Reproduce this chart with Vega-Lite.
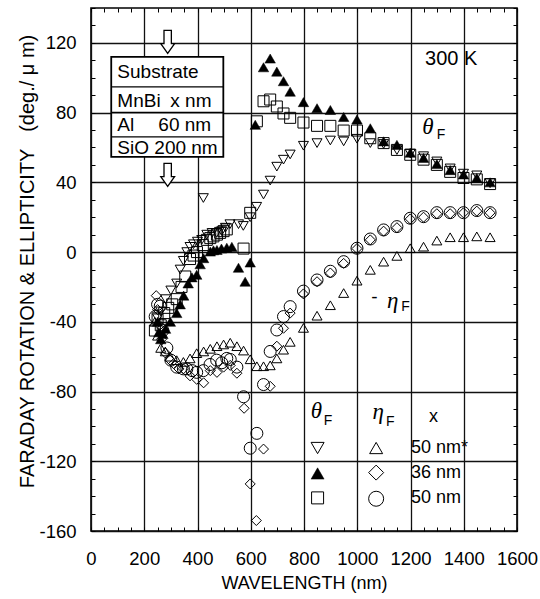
{
  "$schema": "https://vega.github.io/schema/vega-lite/v6.json",
  "width": 426,
  "height": 523,
  "autosize": "none",
  "padding": {"left": 91, "top": 8, "right": 23, "bottom": 68},
  "background": "white",
  "config": {
    "view": {"stroke": "#000", "strokeWidth": 1.6},
    "font": "Liberation Sans",
    "text": {"font": "Liberation Sans", "color": "#000"},
    "axis": {"domain": false, "labelColor": "#000", "titleColor": "#000", "tickColor": "#000", "labelFont": "Liberation Sans", "titleFont": "Liberation Sans", "titleFontWeight": "normal"}
  },
  "datasets": {
    "one": [{}],
    "pts": [
      {"s":"A","nm":250,"v":-38},{"s":"A","nm":262,"v":-34},{"s":"A","nm":280,"v":-27},{"s":"A","nm":300,"v":-22},{"s":"A","nm":322,"v":-18},{"s":"A","nm":335,"v":-10},{"s":"A","nm":347,"v":-5},{"s":"A","nm":360,"v":0},{"s":"A","nm":372,"v":3},{"s":"A","nm":385,"v":4.5},{"s":"A","nm":400,"v":6},{"s":"A","nm":416,"v":7},{"s":"A","nm":422,"v":31},{"s":"A","nm":435,"v":10},{"s":"A","nm":455,"v":11},{"s":"A","nm":472,"v":11},{"s":"A","nm":491,"v":12},{"s":"A","nm":505,"v":14},{"s":"A","nm":522,"v":16},{"s":"A","nm":554,"v":16},{"s":"A","nm":572,"v":15},{"s":"A","nm":598,"v":20},{"s":"A","nm":622,"v":26},{"s":"A","nm":648,"v":33},{"s":"A","nm":673,"v":41},{"s":"A","nm":698,"v":49},{"s":"A","nm":723,"v":53},{"s":"A","nm":748,"v":56},{"s":"A","nm":798,"v":61},{"s":"A","nm":849,"v":62.5},{"s":"A","nm":899,"v":64},{"s":"A","nm":949,"v":63.5},{"s":"A","nm":999,"v":65},{"s":"A","nm":1049,"v":62.5},{"s":"A","nm":1099,"v":62},{"s":"A","nm":1149,"v":58.5},{"s":"A","nm":1199,"v":56.5},{"s":"A","nm":1249,"v":55},{"s":"A","nm":1299,"v":52},{"s":"A","nm":1349,"v":48},{"s":"A","nm":1399,"v":45},{"s":"A","nm":1449,"v":44},{"s":"A","nm":1499,"v":39.5},
      {"s":"B","nm":250,"v":-40},{"s":"B","nm":255,"v":-46},{"s":"B","nm":262,"v":-50},{"s":"B","nm":270,"v":-47},{"s":"B","nm":280,"v":-44},{"s":"B","nm":298,"v":-40},{"s":"B","nm":322,"v":-35},{"s":"B","nm":335,"v":-30},{"s":"B","nm":348,"v":-25},{"s":"B","nm":365,"v":-18},{"s":"B","nm":379,"v":-14.5},{"s":"B","nm":397,"v":-13},{"s":"B","nm":410,"v":-7},{"s":"B","nm":423,"v":-3.5},{"s":"B","nm":448,"v":0.3},{"s":"B","nm":460,"v":1},{"s":"B","nm":473,"v":1.2},{"s":"B","nm":490,"v":2},{"s":"B","nm":510,"v":2.5},{"s":"B","nm":529,"v":3},{"s":"B","nm":554,"v":-9},{"s":"B","nm":579,"v":-17},{"s":"B","nm":598,"v":-6},{"s":"B","nm":617,"v":73},{"s":"B","nm":648,"v":106},{"s":"B","nm":673,"v":111},{"s":"B","nm":698,"v":103.5},{"s":"B","nm":723,"v":98},{"s":"B","nm":748,"v":92},{"s":"B","nm":798,"v":86},{"s":"B","nm":849,"v":82.5},{"s":"B","nm":899,"v":81.5},{"s":"B","nm":949,"v":77.5},{"s":"B","nm":999,"v":76},{"s":"B","nm":1049,"v":71},{"s":"B","nm":1099,"v":63.5},{"s":"B","nm":1149,"v":61.5},{"s":"B","nm":1199,"v":57},{"s":"B","nm":1249,"v":54},{"s":"B","nm":1299,"v":50.5},{"s":"B","nm":1349,"v":47},{"s":"B","nm":1399,"v":44.5},{"s":"B","nm":1449,"v":42.5},{"s":"B","nm":1499,"v":40},
      {"s":"C","nm":240,"v":-45},{"s":"C","nm":250,"v":-38},{"s":"C","nm":262,"v":-42},{"s":"C","nm":275,"v":-35},{"s":"C","nm":290,"v":-32},{"s":"C","nm":305,"v":-30},{"s":"C","nm":322,"v":-27},{"s":"C","nm":340,"v":-20},{"s":"C","nm":354,"v":-14},{"s":"C","nm":372,"v":-4},{"s":"C","nm":385,"v":-2},{"s":"C","nm":398,"v":0},{"s":"C","nm":420,"v":4},{"s":"C","nm":435,"v":7},{"s":"C","nm":448,"v":8},{"s":"C","nm":460,"v":9},{"s":"C","nm":473,"v":10},{"s":"C","nm":485,"v":11},{"s":"C","nm":498,"v":12},{"s":"C","nm":510,"v":13},{"s":"C","nm":573,"v":2},{"s":"C","nm":598,"v":22.5},{"s":"C","nm":623,"v":75},{"s":"C","nm":648,"v":86.5},{"s":"C","nm":673,"v":87.5},{"s":"C","nm":698,"v":83.5},{"s":"C","nm":723,"v":79.5},{"s":"C","nm":748,"v":77},{"s":"C","nm":798,"v":74.3},{"s":"C","nm":849,"v":72.4},{"s":"C","nm":899,"v":72.4},{"s":"C","nm":949,"v":69.7},{"s":"C","nm":999,"v":69.7},{"s":"C","nm":1049,"v":65.3},{"s":"C","nm":1099,"v":62.5},{"s":"C","nm":1149,"v":58.6},{"s":"C","nm":1199,"v":55.8},{"s":"C","nm":1249,"v":53},{"s":"C","nm":1299,"v":50},{"s":"C","nm":1349,"v":46},{"s":"C","nm":1399,"v":42.5},{"s":"C","nm":1449,"v":41.7},{"s":"C","nm":1499,"v":39},
      {"s":"D","nm":240,"v":-40},{"s":"D","nm":250,"v":-48},{"s":"D","nm":262,"v":-55},{"s":"D","nm":279,"v":-57},{"s":"D","nm":297,"v":-60},{"s":"D","nm":322,"v":-62},{"s":"D","nm":347,"v":-63},{"s":"D","nm":372,"v":-61},{"s":"D","nm":397,"v":-58},{"s":"D","nm":423,"v":-57},{"s":"D","nm":448,"v":-55.5},{"s":"D","nm":473,"v":-54},{"s":"D","nm":498,"v":-53},{"s":"D","nm":523,"v":-52},{"s":"D","nm":548,"v":-54},{"s":"D","nm":573,"v":-56.5},{"s":"D","nm":598,"v":-61.5},{"s":"D","nm":623,"v":-65.5},{"s":"D","nm":648,"v":-65.5},{"s":"D","nm":673,"v":-65},{"s":"D","nm":698,"v":-61},{"s":"D","nm":723,"v":-56},{"s":"D","nm":748,"v":-51.5},{"s":"D","nm":798,"v":-43.5},{"s":"D","nm":849,"v":-36.5},{"s":"D","nm":899,"v":-30.5},{"s":"D","nm":949,"v":-23.5},{"s":"D","nm":999,"v":-16.4},{"s":"D","nm":1049,"v":-10.2},{"s":"D","nm":1099,"v":-5.5},{"s":"D","nm":1149,"v":-2.2},{"s":"D","nm":1199,"v":2.2},{"s":"D","nm":1249,"v":3.1},{"s":"D","nm":1299,"v":6.6},{"s":"D","nm":1349,"v":8.5},{"s":"D","nm":1399,"v":8.5},{"s":"D","nm":1449,"v":9},{"s":"D","nm":1499,"v":8.5},
      {"s":"E","nm":245,"v":-25},{"s":"E","nm":250,"v":-33},{"s":"E","nm":258,"v":-42},{"s":"E","nm":265,"v":-50},{"s":"E","nm":280,"v":-58},{"s":"E","nm":297,"v":-62},{"s":"E","nm":310,"v":-64},{"s":"E","nm":330,"v":-67},{"s":"E","nm":347,"v":-67},{"s":"E","nm":372,"v":-71},{"s":"E","nm":397,"v":-73},{"s":"E","nm":423,"v":-75},{"s":"E","nm":448,"v":-68},{"s":"E","nm":473,"v":-69},{"s":"E","nm":498,"v":-66},{"s":"E","nm":523,"v":-65},{"s":"E","nm":548,"v":-69.5},{"s":"E","nm":575,"v":-89.6},{"s":"E","nm":598,"v":-133},{"s":"E","nm":621,"v":-154},{"s":"E","nm":648,"v":-113},{"s":"E","nm":673,"v":-77},{"s":"E","nm":698,"v":-54},{"s":"E","nm":723,"v":-43.7},{"s":"E","nm":748,"v":-35},{"s":"E","nm":798,"v":-24},{"s":"E","nm":849,"v":-17},{"s":"E","nm":899,"v":-12},{"s":"E","nm":949,"v":-6.5},{"s":"E","nm":999,"v":2},{"s":"E","nm":1049,"v":7},{"s":"E","nm":1099,"v":12},{"s":"E","nm":1149,"v":14},{"s":"E","nm":1199,"v":19},{"s":"E","nm":1249,"v":20},{"s":"E","nm":1299,"v":22},{"s":"E","nm":1349,"v":22},{"s":"E","nm":1399,"v":22.5},{"s":"E","nm":1449,"v":23.5},{"s":"E","nm":1499,"v":22.5},
      {"s":"F","nm":241,"v":-37},{"s":"F","nm":250,"v":-30},{"s":"F","nm":260,"v":-31},{"s":"F","nm":270,"v":-45},{"s":"F","nm":285,"v":-55},{"s":"F","nm":300,"v":-62},{"s":"F","nm":322,"v":-66},{"s":"F","nm":347,"v":-67},{"s":"F","nm":360,"v":-67},{"s":"F","nm":380,"v":-68},{"s":"F","nm":397,"v":-69},{"s":"F","nm":422,"v":-68},{"s":"F","nm":447,"v":-64.5},{"s":"F","nm":472,"v":-62},{"s":"F","nm":491,"v":-63.5},{"s":"F","nm":510,"v":-61},{"s":"F","nm":523,"v":-61.6},{"s":"F","nm":548,"v":-66},{"s":"F","nm":573,"v":-83},{"s":"F","nm":598,"v":-112.5},{"s":"F","nm":623,"v":-104},{"s":"F","nm":648,"v":-76},{"s":"F","nm":673,"v":-57},{"s":"F","nm":698,"v":-44.7},{"s":"F","nm":723,"v":-37},{"s":"F","nm":748,"v":-31.3},{"s":"F","nm":798,"v":-22.4},{"s":"F","nm":849,"v":-16},{"s":"F","nm":899,"v":-11},{"s":"F","nm":949,"v":-5.5},{"s":"F","nm":999,"v":2.2},{"s":"F","nm":1049,"v":7.5},{"s":"F","nm":1099,"v":12.7},{"s":"F","nm":1149,"v":14.6},{"s":"F","nm":1199,"v":19.4},{"s":"F","nm":1249,"v":20.3},{"s":"F","nm":1299,"v":22.6},{"s":"F","nm":1349,"v":22.6},{"s":"F","nm":1399,"v":22.6},{"s":"F","nm":1449,"v":23.8},{"s":"F","nm":1499,"v":22.6}
    ]
  },
  "layer": [
    {
      "data": {"name": "pts"},
      "transform": [{"filter": "datum.s === 'A'"}],
      "mark": {"type": "point", "shape": "triangle-down", "filled": false, "stroke": "#000", "strokeWidth": 1, "size": 100, "opacity": 1},
      "encoding": {
        "x": {"field": "nm", "type": "quantitative", "scale": {"domain": [0, 1600], "nice": false, "zero": false},
          "axis": {"orient": "bottom", "offset": -4, "values": [0,50,100,150,200,250,300,350,400,450,500,550,600,650,700,750,800,850,900,950,1000,1050,1100,1150,1200,1250,1300,1350,1400,1450,1500,1550,1600],
            "labelExpr": "datum.value % 200 === 0 ? datum.value : ''", "labelFontSize": 18.5, "labelPadding": 18, "tickSize": 4, "tickWidth": 1,
            "grid": true, "gridColor": "#111", "gridWidth": 1.3, "gridOpacity": {"condition": {"test": "datum.value % 200 === 0", "value": 1}, "value": 0},
            "title": "WAVELENGTH (nm)", "titleFontSize": 18, "titleY": 56, "titleBaseline": "middle", "labelFlush": false, "labelOverlap": false}},
        "y": {"field": "v", "type": "quantitative", "scale": {"domain": [-160, 140], "nice": false, "zero": false},
          "axis": {"orient": "left", "offset": -4, "values": [-160,-150,-140,-130,-120,-110,-100,-90,-80,-70,-60,-50,-40,-30,-20,-10,0,10,20,30,40,50,60,70,80,90,100,110,120,130,140],
            "labelExpr": "datum.value % 40 === 0 ? datum.value : ''", "labelFontSize": 18.5, "labelPadding": 15, "tickSize": 4, "tickWidth": 1,
            "grid": true, "gridColor": "#111", "gridWidth": 1.3, "gridOpacity": {"condition": {"test": "datum.value % 40 === 0", "value": 1}, "value": 0},
            "title": "FARADAY ROTATION & ELLIPTICITY\u00a0\u00a0\u00a0(deg./\u00a0μ\u00a0m)", "titleFontSize": 20, "titleX": -68, "titleY": 253, "titleBaseline": "middle", "titleAngle": -90, "labelFlush": false, "labelOverlap": false}}
      }
    },
    {
      "data": {"name": "pts"},
      "transform": [{"filter": "datum.s === 'C'"}],
      "mark": {"type": "point", "shape": "square", "filled": false, "stroke": "#000", "strokeWidth": 1, "size": 121, "opacity": 1},
      "encoding": {
        "x": {"field": "nm", "type": "quantitative",
          "axis": {"orient": "top", "offset": -4, "values": [0,50,100,150,200,250,300,350,400,450,500,550,600,650,700,750,800,850,900,950,1000,1050,1100,1150,1200,1250,1300,1350,1400,1450,1500,1550,1600], "labels": false, "tickSize": 4, "tickWidth": 1, "grid": false, "title": null}},
        "y": {"field": "v", "type": "quantitative",
          "axis": {"orient": "right", "offset": -4, "values": [-160,-150,-140,-130,-120,-110,-100,-90,-80,-70,-60,-50,-40,-30,-20,-10,0,10,20,30,40,50,60,70,80,90,100,110,120,130,140], "labels": false, "tickSize": 4, "tickWidth": 1, "grid": false, "title": null}}
      }
    },
    {
      "data": {"name": "pts"},
      "transform": [{"filter": "datum.s === 'D'"}],
      "mark": {"type": "point", "shape": "triangle-up", "filled": false, "stroke": "#000", "strokeWidth": 1, "size": 100, "opacity": 1},
      "encoding": {"x": {"field": "nm", "type": "quantitative", "axis": null}, "y": {"field": "v", "type": "quantitative", "axis": null}}
    },
    {
      "data": {"name": "pts"},
      "transform": [{"filter": "datum.s === 'E'"}],
      "mark": {"type": "point", "shape": "diamond", "filled": false, "stroke": "#000", "strokeWidth": 1, "size": 100, "opacity": 1},
      "encoding": {"x": {"field": "nm", "type": "quantitative", "axis": null}, "y": {"field": "v", "type": "quantitative", "axis": null}}
    },
    {
      "data": {"name": "pts"},
      "transform": [{"filter": "datum.s === 'F'"}],
      "mark": {"type": "point", "shape": "circle", "filled": false, "stroke": "#000", "strokeWidth": 1, "size": 144, "opacity": 1},
      "encoding": {"x": {"field": "nm", "type": "quantitative", "axis": null}, "y": {"field": "v", "type": "quantitative", "axis": null}}
    },
    {
      "data": {"name": "pts"},
      "transform": [{"filter": "datum.s === 'B'"}],
      "mark": {"type": "point", "shape": "triangle-up", "filled": true, "fill": "#000", "stroke": "#000", "strokeWidth": 0.5, "size": 110, "opacity": 1},
      "encoding": {"x": {"field": "nm", "type": "quantitative", "axis": null}, "y": {"field": "v", "type": "quantitative", "axis": null}}
    },
    {
      "data": {"name": "one"},
      "mark": {"type": "rect", "fill": "white", "stroke": "#000", "strokeWidth": 1.8},
      "encoding": {"x": {"datum": 76, "type": "quantitative", "axis": null}, "x2": {"datum": 497}, "y": {"datum": 112, "type": "quantitative", "axis": null}, "y2": {"datum": 54.6}}
    },
    {
      "data": {"name": "one"},
      "mark": {"type": "rule", "stroke": "#000", "strokeWidth": 1.3},
      "encoding": {"x": {"datum": 76, "type": "quantitative", "axis": null}, "x2": {"datum": 497}, "y": {"datum": 94.8, "type": "quantitative", "axis": null}}
    },
    {
      "data": {"name": "one"},
      "mark": {"type": "rule", "stroke": "#000", "strokeWidth": 1.6},
      "encoding": {"x": {"datum": 76, "type": "quantitative", "axis": null}, "x2": {"datum": 497}, "y": {"datum": 80, "type": "quantitative", "axis": null}}
    },
    {
      "data": {"name": "one"},
      "mark": {"type": "rule", "stroke": "#000", "strokeWidth": 1.3},
      "encoding": {"x": {"datum": 76, "type": "quantitative", "axis": null}, "x2": {"datum": 497}, "y": {"datum": 66.1, "type": "quantitative", "axis": null}}
    },
    {
      "data": {"name": "one"},
      "mark": {"type": "text", "text": "Substrate", "fontSize": 19, "align": "left", "baseline": "middle"},
      "encoding": {"x": {"datum": 99, "type": "quantitative", "axis": null}, "y": {"datum": 103.4, "type": "quantitative", "axis": null}}
    },
    {
      "data": {"name": "one"},
      "mark": {"type": "text", "text": "MnBi", "fontSize": 19, "align": "left", "baseline": "middle"},
      "encoding": {"x": {"datum": 99, "type": "quantitative", "axis": null}, "y": {"datum": 86.5, "type": "quantitative", "axis": null}}
    },
    {
      "data": {"name": "one"},
      "mark": {"type": "text", "text": "x nm", "fontSize": 19, "align": "left", "baseline": "middle"},
      "encoding": {"x": {"datum": 298, "type": "quantitative", "axis": null}, "y": {"datum": 86.5, "type": "quantitative", "axis": null}}
    },
    {
      "data": {"name": "one"},
      "mark": {"type": "text", "text": "Al", "fontSize": 19, "align": "left", "baseline": "middle"},
      "encoding": {"x": {"datum": 99, "type": "quantitative", "axis": null}, "y": {"datum": 73, "type": "quantitative", "axis": null}}
    },
    {
      "data": {"name": "one"},
      "mark": {"type": "text", "text": "60 nm", "fontSize": 19, "align": "left", "baseline": "middle"},
      "encoding": {"x": {"datum": 253, "type": "quantitative", "axis": null}, "y": {"datum": 73, "type": "quantitative", "axis": null}}
    },
    {
      "data": {"name": "one"},
      "mark": {"type": "text", "text": "SiO 200 nm", "fontSize": 19, "align": "left", "baseline": "middle"},
      "encoding": {"x": {"datum": 99, "type": "quantitative", "axis": null}, "y": {"datum": 59.5, "type": "quantitative", "axis": null}}
    },
    {
      "data": {"name": "one"},
      "mark": {"type": "point", "shape": "M-0.32,-1L0.32,-1L0.32,0.15L0.6,0.15L0,1L-0.6,0.15L-0.32,0.15Z", "filled": true, "fill": "white", "stroke": "#000", "strokeWidth": 1.3, "size": 529, "opacity": 1},
      "encoding": {"x": {"datum": 288, "type": "quantitative", "axis": null}, "y": {"datum": 120.6, "type": "quantitative", "axis": null}}
    },
    {
      "data": {"name": "one"},
      "mark": {"type": "point", "shape": "M-0.32,-1L0.32,-1L0.32,0.15L0.6,0.15L0,1L-0.6,0.15L-0.32,0.15Z", "filled": true, "fill": "white", "stroke": "#000", "strokeWidth": 1.3, "size": 529, "opacity": 1},
      "encoding": {"x": {"datum": 288, "type": "quantitative", "axis": null}, "y": {"datum": 44.3, "type": "quantitative", "axis": null}}
    },
    {
      "data": {"name": "one"},
      "mark": {"type": "text", "text": "300 K", "fontSize": 20, "align": "center", "baseline": "middle"},
      "encoding": {"x": {"datum": 1353, "type": "quantitative", "axis": null}, "y": {"datum": 110.8, "type": "quantitative", "axis": null}}
    },
    {
      "data": {"name": "one"},
      "mark": {"type": "text", "text": "θ", "font": "Liberation Serif", "fontStyle": "italic", "fontSize": 23, "align": "center", "baseline": "middle"},
      "encoding": {"x": {"datum": 1265, "type": "quantitative", "axis": null}, "y": {"datum": 71.5, "type": "quantitative", "axis": null}}
    },
    {
      "data": {"name": "one"},
      "mark": {"type": "text", "text": "F", "fontSize": 14, "align": "center", "baseline": "middle"},
      "encoding": {"x": {"datum": 1315, "type": "quantitative", "axis": null}, "y": {"datum": 67.2, "type": "quantitative", "axis": null}}
    },
    {
      "data": {"name": "one"},
      "mark": {"type": "text", "text": "-", "fontSize": 19, "align": "center", "baseline": "middle"},
      "encoding": {"x": {"datum": 1064, "type": "quantitative", "axis": null}, "y": {"datum": -26, "type": "quantitative", "axis": null}}
    },
    {
      "data": {"name": "one"},
      "mark": {"type": "text", "text": "η", "font": "Liberation Serif", "fontStyle": "italic", "fontSize": 23, "align": "center", "baseline": "middle"},
      "encoding": {"x": {"datum": 1133, "type": "quantitative", "axis": null}, "y": {"datum": -28, "type": "quantitative", "axis": null}}
    },
    {
      "data": {"name": "one"},
      "mark": {"type": "text", "text": "F", "fontSize": 14, "align": "center", "baseline": "middle"},
      "encoding": {"x": {"datum": 1181, "type": "quantitative", "axis": null}, "y": {"datum": -31.5, "type": "quantitative", "axis": null}}
    },
    {
      "data": {"name": "one"},
      "mark": {"type": "text", "text": "θ", "font": "Liberation Serif", "fontStyle": "italic", "fontSize": 23, "align": "center", "baseline": "middle"},
      "encoding": {"x": {"datum": 847, "type": "quantitative", "axis": null}, "y": {"datum": -91, "type": "quantitative", "axis": null}}
    },
    {
      "data": {"name": "one"},
      "mark": {"type": "text", "text": "F", "fontSize": 14, "align": "center", "baseline": "middle"},
      "encoding": {"x": {"datum": 890, "type": "quantitative", "axis": null}, "y": {"datum": -97, "type": "quantitative", "axis": null}}
    },
    {
      "data": {"name": "one"},
      "mark": {"type": "text", "text": "η", "font": "Liberation Serif", "fontStyle": "italic", "fontSize": 23, "align": "center", "baseline": "middle"},
      "encoding": {"x": {"datum": 1079, "type": "quantitative", "axis": null}, "y": {"datum": -92, "type": "quantitative", "axis": null}}
    },
    {
      "data": {"name": "one"},
      "mark": {"type": "text", "text": "F", "fontSize": 14, "align": "center", "baseline": "middle"},
      "encoding": {"x": {"datum": 1124, "type": "quantitative", "axis": null}, "y": {"datum": -97.4, "type": "quantitative", "axis": null}}
    },
    {
      "data": {"name": "one"},
      "mark": {"type": "text", "text": "x", "fontSize": 18, "align": "center", "baseline": "middle"},
      "encoding": {"x": {"datum": 1286, "type": "quantitative", "axis": null}, "y": {"datum": -94.6, "type": "quantitative", "axis": null}}
    },
    {
      "data": {"name": "one"},
      "mark": {"type": "point", "shape": "triangle-down", "filled": false, "stroke": "#000", "strokeWidth": 1, "size": 169, "opacity": 1},
      "encoding": {"x": {"datum": 851, "type": "quantitative", "axis": null}, "y": {"datum": -112.4, "type": "quantitative", "axis": null}}
    },
    {
      "data": {"name": "one"},
      "mark": {"type": "point", "shape": "triangle-up", "filled": true, "fill": "#000", "stroke": "#000", "strokeWidth": 0.5, "size": 169, "opacity": 1},
      "encoding": {"x": {"datum": 851, "type": "quantitative", "axis": null}, "y": {"datum": -127, "type": "quantitative", "axis": null}}
    },
    {
      "data": {"name": "one"},
      "mark": {"type": "point", "shape": "square", "filled": false, "stroke": "#000", "strokeWidth": 1, "size": 144, "opacity": 1},
      "encoding": {"x": {"datum": 851, "type": "quantitative", "axis": null}, "y": {"datum": -141, "type": "quantitative", "axis": null}}
    },
    {
      "data": {"name": "one"},
      "mark": {"type": "point", "shape": "triangle-up", "filled": false, "stroke": "#000", "strokeWidth": 1, "size": 169, "opacity": 1},
      "encoding": {"x": {"datum": 1071, "type": "quantitative", "axis": null}, "y": {"datum": -112.4, "type": "quantitative", "axis": null}}
    },
    {
      "data": {"name": "one"},
      "mark": {"type": "point", "shape": "diamond", "filled": false, "stroke": "#000", "strokeWidth": 1, "size": 225, "opacity": 1},
      "encoding": {"x": {"datum": 1071, "type": "quantitative", "axis": null}, "y": {"datum": -126.5, "type": "quantitative", "axis": null}}
    },
    {
      "data": {"name": "one"},
      "mark": {"type": "point", "shape": "circle", "filled": false, "stroke": "#000", "strokeWidth": 1, "size": 225, "opacity": 1},
      "encoding": {"x": {"datum": 1071, "type": "quantitative", "axis": null}, "y": {"datum": -141.5, "type": "quantitative", "axis": null}}
    },
    {
      "data": {"name": "one"},
      "mark": {"type": "text", "text": "50 nm*", "fontSize": 18, "align": "left", "baseline": "middle"},
      "encoding": {"x": {"datum": 1202, "type": "quantitative", "axis": null}, "y": {"datum": -112.4, "type": "quantitative", "axis": null}}
    },
    {
      "data": {"name": "one"},
      "mark": {"type": "text", "text": "36 nm", "fontSize": 18, "align": "left", "baseline": "middle"},
      "encoding": {"x": {"datum": 1202, "type": "quantitative", "axis": null}, "y": {"datum": -126.7, "type": "quantitative", "axis": null}}
    },
    {
      "data": {"name": "one"},
      "mark": {"type": "text", "text": "50 nm", "fontSize": 18, "align": "left", "baseline": "middle"},
      "encoding": {"x": {"datum": 1202, "type": "quantitative", "axis": null}, "y": {"datum": -141, "type": "quantitative", "axis": null}}
    }
  ],
  "resolve": {"axis": {"x": "independent", "y": "independent"}}
}
